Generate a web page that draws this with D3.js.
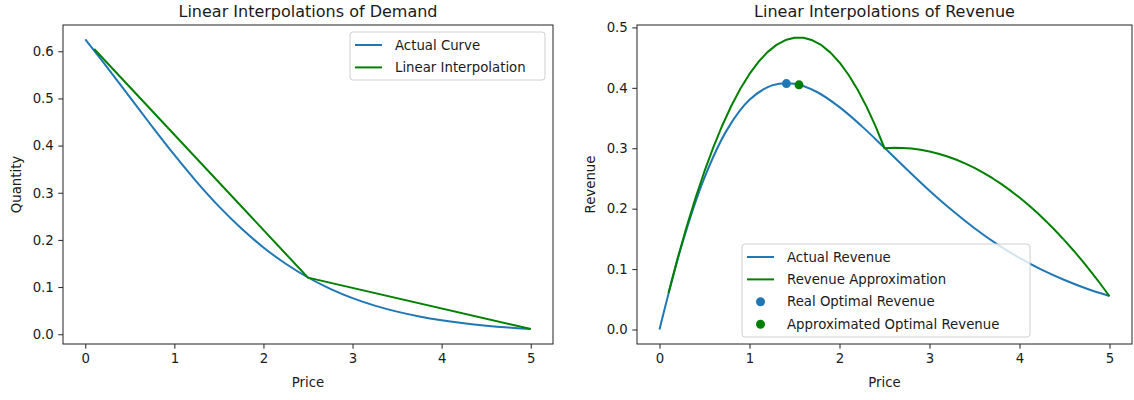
<!DOCTYPE html>
<html>
<head>
<meta charset="utf-8">
<script src="https://cdn.jsdelivr.net/npm/d3@7"></script>
<style>
  html, body { margin: 0; padding: 0; background: #fff; }
  svg { display: block; }
  text { font-family: "DejaVu Sans", sans-serif; fill: #1a1a1a; }
</style>
</head>
<body>
<svg id="chart" width="1134" height="400"></svg>
<script>
// Demand curve samples (price -> quantity)
const demandPrices = [0, 0.25, 0.5, 0.75, 1, 1.25, 1.5, 1.75, 2, 2.25, 2.5, 2.75, 3, 3.25, 3.5, 3.75, 4, 4.25, 4.5, 4.75, 5];
const demandQuantity = [0.625, 0.5648, 0.5027, 0.4405, 0.3801, 0.3232, 0.2711, 0.2246, 0.1840, 0.1494, 0.1203,
  0.0963, 0.0766, 0.0607, 0.0479, 0.0377, 0.0296, 0.0232, 0.0182, 0.0142, 0.0111];

// Piecewise-linear interpolation knots
const interpPrices = [0.1, 2.5, 5];
const interpQuantity = [0.6048, 0.12, 0.011];

// Actual revenue samples (same price grid as demand)
const actualRevenue = [0, 0.1412, 0.2514, 0.3304, 0.3801, 0.4040, 0.4067, 0.3931, 0.3680, 0.3362, 0.3008,
  0.2648, 0.2298, 0.1973, 0.1677, 0.1414, 0.1184, 0.0986, 0.0819, 0.0675, 0.0555];

// Revenue from the interpolated demand, price grid 0.1 .. 5.0
const approxPrices = [0.1, 0.2, 0.3, 0.4, 0.5, 0.6, 0.7, 0.8, 0.9, 1.0, 1.1, 1.2, 1.3, 1.4, 1.5, 1.6, 1.7, 1.8, 1.9, 2.0,
  2.1, 2.2, 2.3, 2.4, 2.5, 2.6, 2.7, 2.8, 2.9, 3.0, 3.1, 3.2, 3.3, 3.4, 3.5, 3.6, 3.7, 3.8, 3.9, 4.0,
  4.1, 4.2, 4.3, 4.4, 4.5, 4.6, 4.7, 4.8, 4.9, 5.0];
const approxRevenue = [0.0605, 0.1169, 0.1693, 0.2177, 0.2620, 0.3023, 0.3385, 0.3707, 0.3989, 0.4230,
  0.4431, 0.4591, 0.4711, 0.4791, 0.4830, 0.4829, 0.4787, 0.4705, 0.4583, 0.4420,
  0.4217, 0.3973, 0.3689, 0.3365, 0.3000, 0.3007, 0.3005, 0.2994, 0.2974, 0.2946,
  0.2909, 0.2863, 0.2809, 0.2746, 0.2674, 0.2593, 0.2504, 0.2406, 0.2299, 0.2184,
  0.2060, 0.1927, 0.1785, 0.1635, 0.1476, 0.1308, 0.1132, 0.0947, 0.0753, 0.0550];

// Optimal points
const realOptimal = { price: 1.41, revenue: 0.407 };
const approxOptimal = { price: 1.55, revenue: 0.405 };

const xTicks = [0, 1, 2, 3, 4, 5];
const demandTicks = [0.0, 0.1, 0.2, 0.3, 0.4, 0.5, 0.6];
const revenueTicks = [0.0, 0.1, 0.2, 0.3, 0.4, 0.5];

const BLUE = "#1f77b4";
const GREEN = "#008000";
const FONT = 13.3;

const svg = d3.select("#chart");

function panel(opts) {
  const { left, right, top, bottom, xDomain, yDomain, yTicks, title, ylabel, ylabelX } = opts;
  const x = d3.scaleLinear().domain(xDomain).range([left, right]);
  const y = d3.scaleLinear().domain(yDomain).range([bottom, top]);
  const g = svg.append("g");

  const xAxis = g.append("g").attr("transform", `translate(0,${bottom})`)
    .call(d3.axisBottom(x).tickValues(xTicks).tickFormat(d3.format("d")).tickSize(4.7).tickPadding(4.5));
  const yAxis = g.append("g").attr("transform", `translate(${left},0)`)
    .call(d3.axisLeft(y).tickValues(yTicks).tickFormat(d3.format(".1f")).tickSize(4.7).tickPadding(4.5));
  [xAxis, yAxis].forEach(a => {
    a.select(".domain").remove();
    a.selectAll("line").attr("stroke", "#222").attr("stroke-width", 1);
    a.selectAll("text").style("font-size", FONT + "px").style("font-family", "DejaVu Sans").attr("fill", "#1a1a1a");
  });

  // frame
  g.append("rect").attr("x", left).attr("y", top).attr("width", right - left).attr("height", bottom - top)
    .attr("fill", "none").attr("stroke", "#222").attr("stroke-width", 1);

  g.append("text").attr("x", (left + right) / 2).attr("y", top - 8)
    .attr("text-anchor", "middle").style("font-size", "16px").text(title);
  g.append("text").attr("x", (left + right) / 2).attr("y", 387)
    .attr("text-anchor", "middle").style("font-size", FONT + "px").text("Price");
  g.append("text").attr("transform", `translate(${ylabelX},${(top + bottom) / 2}) rotate(-90)`)
    .attr("text-anchor", "middle").attr("dy", "0.35em").style("font-size", FONT + "px").text(ylabel);

  const plot = g.append("g");
  return { x, y, g, plot };
}

function drawLine(p, xs, ys, color, curve) {
  const line = d3.line().x(i => p.x(xs[i])).y(i => p.y(ys[i])).curve(curve);
  p.plot.append("path").attr("d", line(d3.range(xs.length)))
    .attr("fill", "none").attr("stroke", color).attr("stroke-width", 2)
    .attr("stroke-linejoin", "round").attr("stroke-linecap", "butt");
}

function legend(g, x0, y0, w, h, rows) {
  g.append("rect").attr("x", x0).attr("y", y0).attr("width", w).attr("height", h)
    .attr("rx", 3).attr("fill", "rgba(255,255,255,0.8)").attr("stroke", "#d0d0d0").attr("stroke-width", 1);
  rows.forEach((r, i) => {
    const cy = y0 + 13 + i * 22.4;
    if (r.type === "line") {
      g.append("line").attr("x1", x0 + 5).attr("x2", x0 + 32).attr("y1", cy).attr("y2", cy)
        .attr("stroke", r.color).attr("stroke-width", 2);
    } else {
      g.append("circle").attr("cx", x0 + 18.5).attr("cy", cy).attr("r", 4.5).attr("fill", r.color);
    }
    g.append("text").attr("x", x0 + 45).attr("y", cy).attr("dy", "0.35em")
      .style("font-size", FONT + "px").text(r.label);
  });
}

// Left panel: demand
const left = panel({
  left: 63, right: 553, top: 25, bottom: 344,
  xDomain: [-0.25, 5.25], yDomain: [-0.0207, 0.6557],
  yTicks: demandTicks, title: "Linear Interpolations of Demand",
  ylabel: "Quantity", ylabelX: 16
});
drawLine(left, demandPrices, demandQuantity, BLUE, d3.curveCatmullRom);
drawLine(left, interpPrices, interpQuantity, GREEN, d3.curveLinear);
legend(left.g, 350, 32, 195, 48, [
  { type: "line", color: BLUE, label: "Actual Curve" },
  { type: "line", color: GREEN, label: "Linear Interpolation" }
]);

// Right panel: revenue
const right = panel({
  left: 637, right: 1132, top: 25, bottom: 344,
  xDomain: [-0.25, 5.25], yDomain: [-0.024, 0.504],
  yTicks: revenueTicks, title: "Linear Interpolations of Revenue",
  ylabel: "Revenue", ylabelX: 590
});
drawLine(right, demandPrices, actualRevenue, BLUE, d3.curveCatmullRom);
drawLine(right, approxPrices, approxRevenue, GREEN, d3.curveLinear);
right.plot.append("circle").attr("cx", right.x(realOptimal.price)).attr("cy", right.y(realOptimal.revenue))
  .attr("r", 4.5).attr("fill", BLUE);
right.plot.append("circle").attr("cx", right.x(approxOptimal.price)).attr("cy", right.y(approxOptimal.revenue))
  .attr("r", 4.5).attr("fill", GREEN);
legend(right.g, 742, 244, 288, 93, [
  { type: "line", color: BLUE, label: "Actual Revenue" },
  { type: "line", color: GREEN, label: "Revenue Approximation" },
  { type: "dot", color: BLUE, label: "Real Optimal Revenue" },
  { type: "dot", color: GREEN, label: "Approximated Optimal Revenue" }
]);
</script>
</body>
</html>
